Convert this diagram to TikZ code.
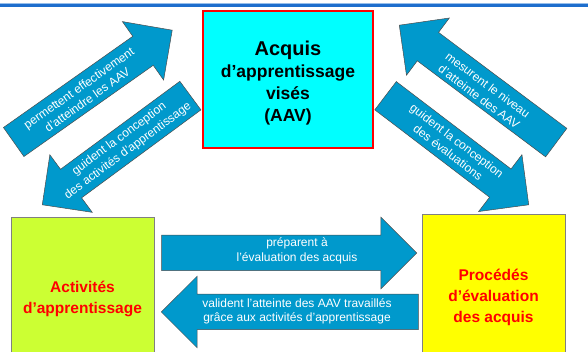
\documentclass[tikz,border=0pt]{standalone}
\usepackage{fontspec}
\setmainfont{Liberation Sans}
\usetikzlibrary{shapes.arrows}

\definecolor{arrowblue}{RGB}{0,153,204}
\definecolor{aavcyan}{RGB}{0,255,255}
\definecolor{actgreen}{RGB}{204,255,51}
\definecolor{evalyellow}{RGB}{255,255,0}
\definecolor{barlight}{RGB}{150,190,235}
\definecolor{bardark}{RGB}{30,110,205}

\begin{document}
\begin{tikzpicture}[x=1pt, y=1pt,
	bluearrow/.style={single arrow, fill=arrowblue, draw=black!70, line width=0.5pt,
		single arrow head extend=18pt, inner xsep=0pt, inner ysep=17.5pt, anchor=tip},
	arrowtext/.style={text=white, align=center, inner sep=0pt,
		font=\fontsize{12}{14.5}\selectfont},
	boxtext/.style={text=red, font=\bfseries\fontsize{15.5}{21}\selectfont, align=center}]
	\useasboundingbox (0, 0) rectangle (588, 352);
	\clip (0, 0) rectangle (588, 352);
	
	% Top bar
	\draw[barlight, line width=1.5pt] (0, 348.5) -- (588, 348.5);
	\draw[bardark, line width=2.5pt] (0, 346.5) -- (588, 346.5);
	
	% Boxes
	\node[draw=red, line width=1.5pt, fill=aavcyan, minimum width=170, minimum height=137] (aav) at (288, 272.5) {};
	\node[align=center, font=\bfseries\fontsize{17.5}{22}\selectfont] (aavtext) at (288, 268.5)
		{{\fontsize{20}{22}\selectfont Acquis}\\ d’apprentissage\\ visés\\ (AAV)};
	\node[draw=black!50, fill=actgreen, minimum width=143, minimum height=163, boxtext] (act) at (82.5, 53.5)
		{Activités\\ d’apprentissage};
	\node[draw=black!50, fill=evalyellow, minimum width=143, minimum height=166, boxtext] (eval) at (493.5, 55)
		{Procédés\\ d’évaluation\\ des acquis};
	
	% Left arrows
	\node[bluearrow, rotate=35.2, minimum height=194] (permettent) at (172.5, 322) {};
	\node[arrowtext, rotate=35.2] (permettenttext) at (83, 258)
		{permettent effectivement\\ d’atteindre les AAV};
	\node[bluearrow, rotate=216.4, minimum height=184] (guidentact) at (42, 147) {};
	\node[arrowtext, rotate=36.4] (guidentacttext) at (123.7, 207)
		{guident la conception\\ des activités d’apprentissage};
	
	% Right arrows
	\node[bluearrow, rotate=143.2, minimum height=196] (mesurent) at (399, 327) {};
	\node[arrowtext, rotate=-36.8] (mesurenttext) at (483.5, 261)
		{mesurent le niveau\\ d’atteinte des AAV};
	\node[bluearrow, rotate=-37.3, minimum height=180] (guideneval) at (529, 147) {};
	\node[arrowtext, rotate=-37.3] (guideneavaltext) at (452.5, 205.5)
		{guident la conception\\ des évaluations};
	
	% Bottom arrows
	\node[bluearrow, minimum height=255] (preparent) at (417, 99) {};
	\node[arrowtext] (preparenttext) at (297, 101) {préparent à\\ l’évaluation des acquis};
	\node[bluearrow, rotate=180, minimum height=257] (valident) at (161, 40) {};
	\node[arrowtext] (validenttext) at (297, 40.5)
		{valident l’atteinte des AAV travaillés\\ grâce aux activités d’apprentissage};
\end{tikzpicture}
\end{document}
